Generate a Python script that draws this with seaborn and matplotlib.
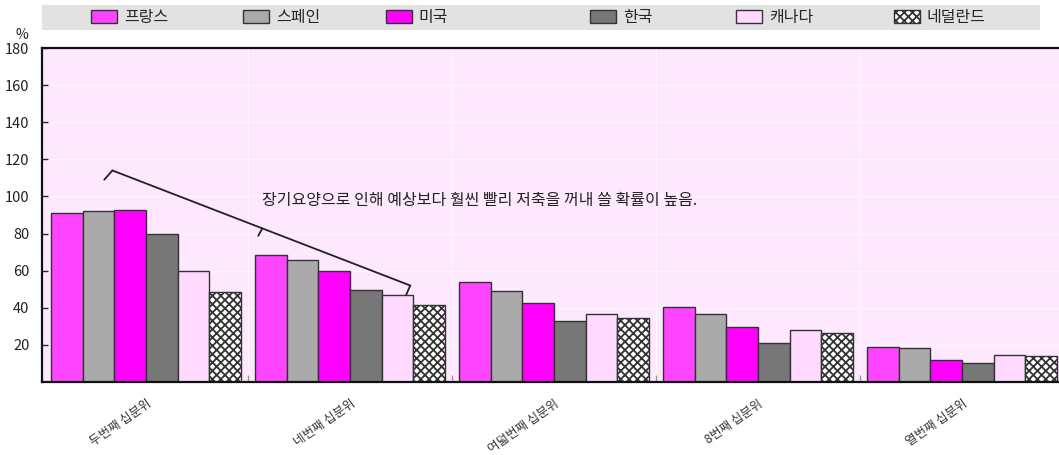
import pandas as pd
import matplotlib
matplotlib.use("Agg")
import matplotlib.pyplot as plt
from matplotlib.patches import Rectangle
import seaborn as sns

# 국가별 십분위 자산 그룹 (장기요양 관련 지표, %)
분위 = ["두번째 십분위", "네번째 십분위", "여덟번째 십분위", "8번째 십분위", "열번째 십분위"]
국가 = ["프랑스", "스페인", "미국", "한국", "캐나다", "네덜란드"]

프랑스 = [91, 68.5, 54, 40.5, 19]
스페인 = [92, 65.5, 49, 36.5, 18.5]
미국 = [92.5, 60, 42.5, 29.5, 12]
한국 = [80, 49.5, 33, 21, 10]
캐나다 = [60, 47, 36.5, 28, 14.8]
네덜란드 = [48.5, 41.5, 34.5, 26.5, 14.2]

색상 = ["#ff44ff", "#aaaaaa", "#ff00ff", "#777777", "#ffd9ff", "#ffffff"]
y_눈금 = [20, 40, 60, 80, 100, 120, 140, 160, 180]
메모 = "장기요양으로 인해 예상보다 훨씬 빨리 저축을 꺼내 쓸 확률이 높음."

rows = []
for name, vals in zip(국가, [프랑스, 스페인, 미국, 한국, 캐나다, 네덜란드]):
    for q, v in zip(분위, vals):
        rows.append({"분위": q, "국가": name, "값": v})
df = pd.DataFrame(rows)

sns.set_style("white")
plt.rcParams["font.family"] = ["Noto Sans CJK KR", "DejaVu Sans"]
plt.rcParams["hatch.linewidth"] = 1.3

fig = plt.figure(figsize=(10.59, 4.55), dpi=100)
ax = fig.add_axes([42 / 1059, 1 - 382 / 455, 1017 / 1059, (382 - 48) / 455])
ax.set_facecolor("#fde8fd")

sns.barplot(data=df, x="분위", y="값", hue="국가", order=분위, hue_order=국가,
            palette=색상, width=0.93, edgecolor="#333333", linewidth=1.0,
            saturation=1, ax=ax, legend=False)

# 네덜란드 막대 빗금
for p in ax.containers[5].patches:
    p.set_hatch("xxxx")
    p.set_facecolor("white")

ax.set_xlim(-0.51, 4.475)
ax.set_ylim(0, 180)
ax.set_yticks(y_눈금)
ax.set_yticklabels([str(t) for t in y_눈금], fontsize=10.5, color="#222222")
ax.tick_params(axis="y", direction="in", length=4, width=1, pad=9, left=True)
ax.set_xticks(range(len(분위)))
ax.set_xticklabels(분위, rotation=35, ha="right", rotation_mode="anchor",
                   fontsize=9, color="#333333")
ax.tick_params(axis="x", length=0, pad=11)
ax.set_xticks([0.5, 1.5, 2.5, 3.5], minor=True)
ax.tick_params(axis="x", which="minor", direction="in", length=5, width=1,
               color="#999999", bottom=True)
ax.set_xlabel("")
ax.set_ylabel("")

# 희미한 격자
for t in y_눈금:
    ax.axhline(t, color="white", lw=1.0, alpha=0.6, zorder=0)
for t in [0.5, 1.5, 2.5, 3.5]:
    ax.axvline(t, color="white", lw=1.0, alpha=0.6, zorder=0)

for s in ["left", "bottom", "top"]:
    ax.spines[s].set_visible(True)
    ax.spines[s].set_color("#111111")
    ax.spines[s].set_linewidth(1.6)
ax.spines["right"].set_visible(False)

# 괄호 모양 주석선
x0, y0, x1, y1 = -0.165, 114, 1.295, 52
ax.plot([x0, x1], [y0, y1], color="#222222", lw=1.3)
ax.plot([x0, x0 - 0.04], [y0, y0 - 5], color="#222222", lw=1.3)
ax.plot([x1, x1 - 0.02], [y1, y1 - 5], color="#222222", lw=1.3)
xm = 0.57
ym = y0 + (y1 - y0) * (xm - x0) / (x1 - x0)
ax.plot([xm, xm - 0.02], [ym, ym - 4], color="#222222", lw=1.3)
ax.text(0.57, 98, 메모, fontsize=11.5, color="#222222", va="center", ha="left")

fig.text(22 / 1059, 1 - 35 / 455, "%", fontsize=10, ha="center", va="center",
         color="#222222")

# 범례 회색 띠
fig.patches.append(Rectangle((42 / 1059, 1 - 30 / 455), 998 / 1059, 25 / 455,
                             transform=fig.transFigure, facecolor="#e2e2e2",
                             edgecolor="none", zorder=0))
handles = [c.patches[0] for c in ax.containers]
범례_x = [91, 243, 386, 590, 736, 894]
for h, name, lx in zip(handles, 국가, 범례_x):
    fig.legend([h], [name], loc="center left",
               bbox_to_anchor=(lx / 1059, 1 - 17.5 / 455),
               fontsize=11.5, frameon=False, borderaxespad=0, borderpad=0,
               handlelength=1.65, handleheight=0.85, handletextpad=0.4)

fig.savefig("out.png", dpi=100)
